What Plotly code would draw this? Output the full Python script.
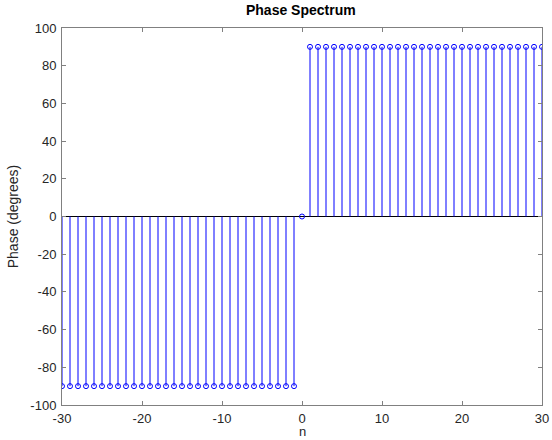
import plotly.graph_objects as go

n = list(range(-30, 31))
phase = [-90 if k < 0 else (0 if k == 0 else 90) for k in n]
x_ticks = [-30, -20, -10, 0, 10, 20, 30]
y_ticks = list(range(-100, 101, 20))

stem_x, stem_y = [], []
for k, p in zip(n, phase):
    stem_x += [k, k, None]
    stem_y += [0, p, None]

fig = go.Figure()
fig.add_trace(go.Scatter(x=[min(n), max(n)], y=[0, 0], mode="lines",
                         line=dict(color="black", width=1.2), hoverinfo="skip"))
fig.add_trace(go.Scatter(x=stem_x, y=stem_y, mode="lines",
                         line=dict(color="#0000ff", width=1), hoverinfo="skip"))
fig.add_trace(go.Scatter(x=n, y=phase, mode="markers",
                         marker=dict(symbol="circle-open", size=5, color="#0000ff",
                                     line=dict(width=1, color="#0000ff"))))

font_family = "Liberation Sans, Arial"
axis_common = dict(showgrid=False, zeroline=False, showline=True, linecolor="#808080",
                   linewidth=1, mirror="ticks", ticks="inside", ticklen=4, automargin=False,
                   tickcolor="#808080",
                   tickfont=dict(family=font_family, size=13, color="#262626"))
fig.update_xaxes(range=[-30, 30], tickvals=x_ticks, ticktext=[str(v) for v in x_ticks],
                 ticklabelstandoff=1, **axis_common)
fig.update_yaxes(range=[-100, 100], tickvals=y_ticks, ticktext=[str(v) for v in y_ticks],
                 ticklabelstandoff=2,
                 title=dict(text="Phase (degrees)", standoff=8,
                            font=dict(family=font_family, size=14, color="#262626")), **axis_common)
fig.add_annotation(text="n", xref="paper", yref="paper", x=0.5, y=0, xanchor="center",
                   yanchor="bottom", yshift=-35, showarrow=False, borderpad=0,
                   font=dict(family=font_family, size=13, color="#262626"))
fig.update_layout(
    width=552, height=440, showlegend=False,
    margin=dict(l=62, r=10, t=28, b=35),
    plot_bgcolor="white", paper_bgcolor="white",
    title=dict(text="<b>Phase Spectrum</b>", x=0.545, xanchor="center", y=0.988, yanchor="top",
               font=dict(family=font_family, size=14, color="black")),
)
fig.write_html("out.html")
